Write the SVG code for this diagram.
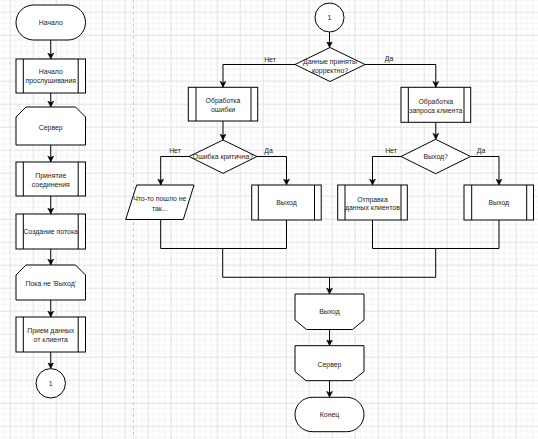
<svg xmlns="http://www.w3.org/2000/svg" width="538" height="439" viewBox="0 0 538 439">
<defs>
<pattern id="grid" width="23" height="23" patternUnits="userSpaceOnUse" x="9.7" y="11.7">
<path d="M5.75 0V23M11.5 0V23M17.25 0V23M0 5.75H23M0 11.5H23M0 17.25H23" stroke="#f3f3f3" stroke-width="1" fill="none"/>
<path d="M0.5 0V23M0 0.5H23" stroke="#e2e2e2" stroke-width="1" fill="none"/>
</pattern>
<marker id="arr" markerUnits="userSpaceOnUse" markerWidth="8" markerHeight="7" refX="6" refY="3" orient="auto">
<path d="M0,0 L6,3 L0,6 L1.6,3 Z" fill="#000" stroke="#000" stroke-width="0.5"/>
</marker>
</defs>
<style>
.s{fill:#fff;stroke:#000;stroke-width:1}
.l{fill:none;stroke:#000;stroke-width:1}
.a{fill:none;stroke:#000;stroke-width:1;marker-end:url(#arr)}
text{font-family:"Liberation Sans",Arial,sans-serif;font-size:6.9px;fill:#222;text-anchor:middle;dominant-baseline:central}
</style>
<rect width="538" height="439" fill="#fff"/>
<rect width="538" height="439" fill="url(#grid)"/>
<line x1="133.5" y1="0" x2="133.5" y2="439" stroke="#c8c8c8" stroke-width="1" stroke-dasharray="3,3"/>

<g id="connectors">
<path class="a" d="M50.75 40V59"/>
<path class="a" d="M50.75 93V107"/>
<path class="a" d="M50.75 145V162"/>
<path class="a" d="M50.75 196V214"/>
<path class="a" d="M50.75 249V265"/>
<path class="a" d="M50.75 300V317"/>
<path class="a" d="M50.75 352V368.5"/>
<path class="a" d="M329.5 32V47.5"/>
<path class="a" d="M295 64.5H223V87.3"/>
<path class="a" d="M365 64.5H435.8V87.3"/>
<path class="a" d="M223 121V140"/>
<path class="a" d="M435.8 122V139.3"/>
<path class="a" d="M189 156.5H160.7V185"/>
<path class="a" d="M257 156.5H286.5V185"/>
<path class="a" d="M401 156.5H372.5V185"/>
<path class="a" d="M470.5 156.5H499V185"/>
<path class="l" d="M160.7 219.5V248.5H286.5V220"/>
<path class="l" d="M372.5 220V248.5H499V220"/>
<path class="l" d="M222.7 248.5V277.3H435.7V248.5"/>
<path class="a" d="M329.5 277.3V294"/>
<path class="a" d="M329.5 329.5V345.7"/>
<path class="a" d="M329.5 380.7V397.3"/>
<text x="270" y="59">Нет</text>
<text x="389" y="58.3">Да</text>
<text x="175" y="150">Нет</text>
<text x="268.5" y="150">Да</text>
<text x="391" y="150">Нет</text>
<text x="481" y="150">Да</text>
</g>

<g id="start">
<rect class="s" x="16" y="5" width="69.5" height="35" rx="17.5"/>
<text x="50.75" y="22.5">Начало</text>
</g>
<g id="listen">
<rect class="s" x="16" y="59" width="69.5" height="34"/>
<path class="l" d="M23.3 59V93M78.2 59V93"/>
<text x="50.75" y="71.7">Начало</text>
<text x="50.75" y="80.2">прослушивания</text>
</g>
<g id="server1">
<path class="s" d="M16 117L26 107H75.5L85.5 117V145H16Z"/>
<text x="50.75" y="127.5">Сервер</text>
</g>
<g id="accept">
<rect class="s" x="16" y="162" width="69.5" height="34"/>
<path class="l" d="M23.3 162V196M78.2 162V196"/>
<text x="50.75" y="175.7">Принятие</text>
<text x="50.75" y="184">соединения</text>
</g>
<g id="thread">
<rect class="s" x="16" y="214" width="69.5" height="35"/>
<path class="l" d="M23.3 214V249M78.2 214V249"/>
<text x="50.75" y="231">Создание потока</text>
</g>
<g id="loop">
<path class="s" d="M16 275L26 265H75.5L85.5 275V300H16Z"/>
<text x="50.75" y="283.3">Пока не 'Выход'</text>
</g>
<g id="receive">
<rect class="s" x="16" y="317" width="69.5" height="35"/>
<path class="l" d="M23.3 317V352M78.2 317V352"/>
<text x="50.75" y="330.7">Прием данных</text>
<text x="50.75" y="339.3">от клиента</text>
</g>
<g id="conn1a">
<circle class="s" cx="50.75" cy="383.3" r="14.7"/>
<text x="50.75" y="383.3">1</text>
</g>

<g id="conn1b">
<circle class="s" cx="329.5" cy="17.5" r="14.5"/>
<text x="329.5" y="17.5">1</text>
</g>
<g id="check">
<path class="s" d="M330 47.5L365 64.5L330 81.5L295 64.5Z"/>
<text x="330" y="61.3">Данные приняты</text>
<text x="330" y="70">корректно?</text>
</g>
<g id="errproc">
<rect class="s" x="188.3" y="87.3" width="69.4" height="33.7"/>
<path class="l" d="M196 87.3V121M251 87.3V121"/>
<text x="223" y="100">Обработка</text>
<text x="223" y="109">ошибки</text>
</g>
<g id="reqproc">
<rect class="s" x="401" y="87.3" width="69.7" height="35"/>
<path class="l" d="M408.3 87.3V122.3M464 87.3V122.3"/>
<text x="435.8" y="101">Обработка</text>
<text x="435.8" y="110.3">запроса клиента</text>
</g>
<g id="critical">
<path class="s" d="M223 140L257 156.5L223 173.3L189 156.5Z"/>
<text x="223" y="156.7">Ошибка критична?</text>
</g>
<g id="exitq">
<path class="s" d="M435.7 139.3L470.5 156.5L435.7 173.7L401 156.5Z"/>
<text x="435.7" y="156.5">Выход?</text>
</g>
<g id="wrong">
<path class="s" d="M136.7 185H194L183.3 219.5H125.7Z"/>
<text x="159.8" y="198.3">Что-то пошло не</text>
<text x="159.8" y="208.3">так...</text>
</g>
<g id="exit1">
<rect class="s" x="251.7" y="185" width="69.5" height="35"/>
<path class="l" d="M258.3 185V220M314.5 185V220"/>
<text x="286.5" y="202.5">Выход</text>
</g>
<g id="send">
<rect class="s" x="337.7" y="185" width="69.6" height="35"/>
<path class="l" d="M345 185V220M401 185V220"/>
<text x="372.5" y="199">Отправка</text>
<text x="372.5" y="207.3">данных клиентов</text>
</g>
<g id="exit2">
<rect class="s" x="464" y="185" width="69.5" height="35"/>
<path class="l" d="M471.7 185V220M526.7 185V220"/>
<text x="498.8" y="202.5">Выход</text>
</g>
<g id="loopend">
<path class="s" d="M295 294H364V320L352.5 329.5H306.5L295 320Z"/>
<text x="329.5" y="311.3">Выход</text>
</g>
<g id="server2">
<path class="s" d="M295 345.7H364V371.5L352.5 380.7H306L295 371.5Z"/>
<text x="329.5" y="364">Сервер</text>
</g>
<g id="end">
<rect class="s" x="295" y="397.3" width="69" height="34.4" rx="17.2"/>
<text x="329.5" y="414.5">Конец</text>
</g>
</svg>
